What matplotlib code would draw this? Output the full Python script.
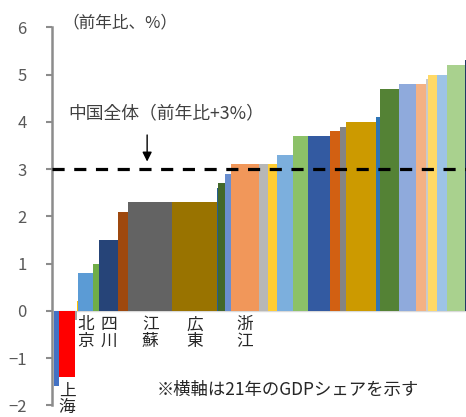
import numpy as np
import matplotlib
matplotlib.use("Agg")
import matplotlib.pyplot as plt

plt.rcParams['font.family'] = ['Noto Sans CJK JP', 'DejaVu Sans']

# 2021 GDP share (%) of each province, sorted by growth rate
shares = [1.20, 3.96, 0.49, 0.17, 3.57, 1.46, 4.76, 2.43, 10.60, 11.00,
          0.24, 1.63, 1.46, 6.80, 2.11, 2.33, 3.88, 3.57, 5.27, 2.43,
          1.46, 7.35, 0.97, 4.61, 4.05, 2.50, 0.56, 2.04, 2.57, 4.30, 0.24]
# growth rate (y/y, %)
growth = [-1.6, -1.4, -0.2, 0.2, 0.8, 1.0, 1.5, 2.1, 2.3, 2.3,
          2.6, 2.7, 2.9, 3.1, 3.1, 3.1, 3.3, 3.7, 3.7, 3.8,
          3.9, 4.0, 4.1, 4.7, 4.8, 4.8, 4.9, 5.0, 5.0, 5.2, 5.3]
names = ["", "上海", "", "", "北京", "", "四川", "", "江蘇", "広東",
         "", "", "", "浙江", "", "", "", "", "", "",
         "", "", "", "", "", "", "", "", "", "", ""]
china_total = 3.0

colors = ["#4472C4", "#FF0000", "#A5A5A5", "#FFC000", "#5B9BD5", "#70AD47",
          "#264478", "#9E480E", "#636363", "#997300", "#255E91", "#43682B",
          "#698ED0", "#F1975A", "#B7B7B7", "#FFCD33", "#7CAFDD", "#8CC168",
          "#335AA1", "#D26012", "#848484", "#CC9A00", "#2E75B6", "#548235",
          "#8FAADC", "#F4B183", "#C9C9C9", "#FFD966", "#9DC3E6", "#A9D18E",
          "#203864"]

left = np.concatenate([[0], np.cumsum(shares)[:-1]])

fig = plt.figure(figsize=(4.66, 4.17), dpi=100)
ax = fig.add_axes([0.111, 0.028, 0.889, 0.9065])

ax.axhline(0, color="#D9D9D9", lw=1, zorder=1)
ax.bar(left, growth, width=shares, align="edge", color=colors, lw=0, zorder=2)

# whole-country line
ax.plot([-0.5, 100], [china_total, china_total], color="black", lw=2.3,
        dashes=(3.8, 3.0), zorder=4)

ax.set_xlim(-0.56, 100.0)
ax.set_ylim(-2, 6)
ax.set_xticks([])
ax.set_yticks(range(-2, 7))
ax.tick_params(axis="y", direction="out", length=4, width=1.5,
               color="#8C8C8C", labelsize=12, labelcolor="#595959", pad=14)
for s in ["top", "right", "bottom"]:
    ax.spines[s].set_visible(False)
ax.spines["left"].set_color("#8C8C8C")
ax.spines["left"].set_linewidth(1.8)

# province names below the bars
for l, w, g, n in zip(left, shares, growth, names):
    if not n:
        continue
    y0 = min(g, 0)
    ax.annotate("\n".join(n), (l + w / 2, y0), xytext=(0, -4),
                textcoords="offset points", ha="center", va="top",
                fontsize=12, color="#262626", linespacing=0.95)

fig.text(0.133, 0.945, "（前年比、%）", fontsize=12, color="#404040",
         va="center", ha="left")
ax.text(3.4, 4.18, "中国全体（前年比+3%）", fontsize=12.8, color="#404040",
        va="center", ha="left")
ax.annotate("", xy=(22.6, 3.1), xytext=(22.6, 3.78),
            arrowprops=dict(arrowstyle="-|>", color="black", lw=1,
                            mutation_scale=14))
fig.text(0.337, 0.065, "※横軸は21年のGDPシェアを示す", fontsize=12.5,
         color="#262626", va="center", ha="left")

fig.savefig("out.png", dpi=100)
